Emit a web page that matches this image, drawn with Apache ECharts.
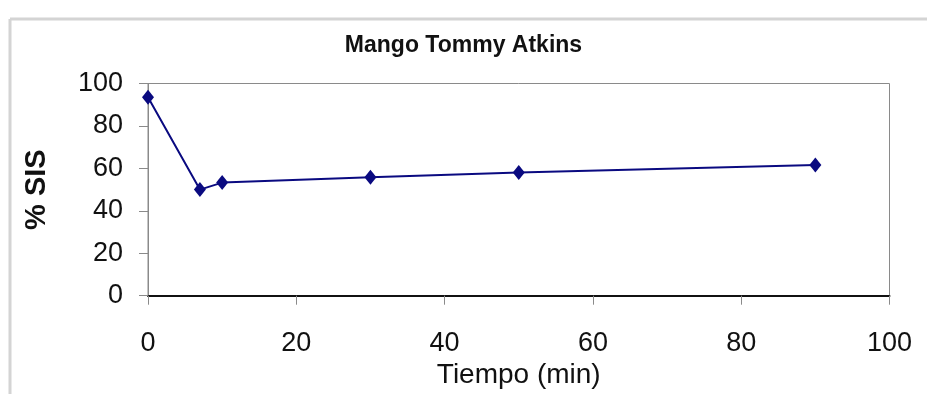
<!DOCTYPE html>
<html>
<head>
<meta charset="utf-8">
<script src="https://cdn.jsdelivr.net/npm/echarts@6/dist/echarts.min.js"></script>
<style>
  html, body { margin: 0; padding: 0; background: #ffffff; }
  #chart { width: 927px; height: 394px; }
</style>
</head>
<body>
<div id="chart"></div>
<script>
// Sampling times (min) and soluble-solids percentage
const tiempo = [0, 7, 10, 30, 50, 90];
const sis = [93.5, 50, 53.3, 55.8, 58.1, 61.6];
const xTicks = [0, 20, 40, 60, 80, 100];
const yTicks = [0, 20, 40, 60, 80, 100];

const font = '"Liberation Sans", Arial, sans-serif';
const chart = echarts.init(document.getElementById('chart'), null, { renderer: 'canvas' });

chart.setOption({
  backgroundColor: '#ffffff',
  animation: false,
  title: {
    text: 'Mango Tommy Atkins',
    left: 'center',
    top: 29,
    textStyle: { fontFamily: font, fontSize: 23, fontWeight: 'bold', color: '#111' }
  },
  graphic: [
    { type: 'line', shape: { x1: 10, y1: 19, x2: 927, y2: 19 }, style: { stroke: '#d4d4d4', lineWidth: 3 } },
    { type: 'line', shape: { x1: 10, y1: 19, x2: 10, y2: 394 }, style: { stroke: '#d4d4d4', lineWidth: 3 } }
  ],
  grid: {
    left: 148, top: 83.5, right: 37.5, bottom: 98.3,
    outerBoundsMode: 'none',
    containLabel: false,
    show: true, borderColor: '#8a8a8a', borderWidth: 1, backgroundColor: 'transparent'
  },
  xAxis: {
    type: 'value', min: xTicks[0], max: xTicks[xTicks.length - 1], interval: 20,
    name: 'Tiempo (min)', nameLocation: 'middle', nameGap: 65,
    nameTextStyle: { fontFamily: font, fontSize: 28, color: '#111' },
    axisLine: { show: true, lineStyle: { color: '#111', width: 2 } },
    axisTick: { show: true, length: 9, lineStyle: { color: '#8a8a8a' } },
    axisLabel: { fontFamily: font, fontSize: 27, color: '#111', margin: 34 },
    splitLine: { show: false }
  },
  yAxis: {
    type: 'value', min: yTicks[0], max: yTicks[yTicks.length - 1], interval: 20,
    name: '% SIS', nameLocation: 'middle', nameGap: 97, nameRotate: 90,
    nameTextStyle: { fontFamily: font, fontSize: 29, fontWeight: 'bold', color: '#111' },
    axisLine: { show: true, lineStyle: { color: '#8a8a8a', width: 1 } },
    axisTick: { show: true, length: 9, lineStyle: { color: '#8a8a8a' } },
    axisLabel: { fontFamily: font, fontSize: 27, color: '#111', margin: 25 },
    splitLine: { show: false }
  },
  series: [{
    type: 'line',
    data: tiempo.map((t, i) => [t, sis[i]]),
    symbol: 'diamond',
    symbolSize: [12, 15],
    lineStyle: { color: '#0a0a80', width: 2 },
    itemStyle: { color: '#0a0a80' }
  }]
});
</script>
</body>
</html>
